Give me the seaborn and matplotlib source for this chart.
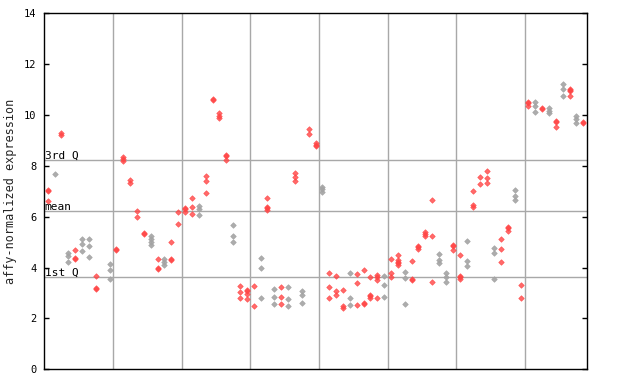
import numpy as np
import pandas as pd
import matplotlib
matplotlib.use("Agg")
import matplotlib.pyplot as plt
import seaborn as sns

# replicate values per sample column (79 columns, grouped by 10)
sample_values = [
    [7.06, 7.00, 6.61], [7.67], [9.31, 9.22], [4.56, 4.47, 4.23], [4.68, 4.36, 4.32],
    [5.11, 4.92, 4.64], [5.11, 4.84, 4.41], [3.66, 3.19, 3.15], [], [4.14, 3.89, 3.54],
    [4.75, 4.69], [8.34, 8.28, 8.19], [7.45, 7.34], [6.23, 5.99], [5.36, 5.32],
    [5.24, 5.11, 5.00, 4.90], [4.33, 3.97, 3.93], [4.33, 4.21, 4.09], [5.00, 4.32, 4.28], [6.18, 5.70],
    [6.35, 6.30, 6.20], [6.74, 6.38, 6.10], [6.42, 6.29, 6.06], [7.59, 7.40, 6.92], [10.63, 10.59],
    [10.07, 9.98, 9.90], [8.41, 8.37, 8.23], [5.66, 5.24, 5.00], [3.27, 3.03, 2.79], [3.10, 3.06, 2.95, 2.75],
    [3.27, 2.48], [4.37, 3.97, 2.79], [6.73, 6.38, 6.34, 6.27], [3.15, 2.83, 2.57], [3.23, 2.83, 2.57],
    [3.23, 2.75, 2.48], [7.72, 7.58, 7.41], [3.09, 2.91, 2.60], [9.44, 9.24], [8.91, 8.83, 8.79],
    [7.18, 7.08, 6.97], [3.78, 3.23, 2.79], [3.66, 3.08, 2.91], [3.11, 2.50, 2.40], [3.78, 2.79, 2.52],
    [3.74, 3.38, 2.52], [3.89, 2.60, 2.56], [3.62, 2.92, 2.88, 2.79], [3.70, 3.62, 3.53, 2.79], [3.66, 3.30, 2.83],
    [4.33, 3.78, 3.62], [4.48, 4.29, 4.23, 4.19, 4.09], [3.82, 3.58, 2.56], [4.25, 3.57, 3.53], [4.86, 4.82, 4.72],
    [5.38, 5.34, 5.23], [6.65, 5.23, 3.42], [4.52, 4.29, 4.19], [3.78, 3.62, 3.42], [4.88, 4.84, 4.68],
    [4.48, 3.68, 3.64, 3.54], [5.04, 4.25, 4.05], [7.00, 6.45, 6.37], [7.55, 7.28], [7.80, 7.54, 7.34],
    [4.78, 4.56, 3.54], [5.11, 4.72, 4.21], [5.61, 5.57, 5.45], [7.05, 6.82, 6.66], [3.30, 2.79],
    [10.51, 10.47, 10.36], [10.52, 10.36, 10.13], [10.27, 10.23], [10.28, 10.17, 10.08], [9.76, 9.72, 9.54],
    [11.22, 11.01, 10.75], [11.03, 10.97, 10.93, 10.75], [9.98, 9.83, 9.69], [9.72, 9.68],
]
# colour class of each sample column: "r" = red, "g" = grey
sample_colors = list(
    "rgrgrggrgg"
    "rrrrrgrgrr"
    "rrgrrrrgrr"
    "rgrgrgrgrr"
    "grrrgrrrrg"
    "rrgrrrrggr"
    "rgrrrgrrgr"
    "rgrgrgrgr"
)
group_size = 10
n_columns = 79
quartile_labels = ["3rd Q", "mean", "1st Q"]
quartile_values = [8.23, 6.22, 3.62]
y_ticks = [0, 2, 4, 6, 8, 10, 12, 14]
y_label = "affy-normalized expression"

rows = []
for i, (vals, c) in enumerate(zip(sample_values, sample_colors)):
    for v in vals:
        rows.append({"x": i + 0.5, "value": v, "kind": "red" if c == "r" else "grey"})
df = pd.DataFrame(rows)

sns.set_theme(style="white")
plt.rcParams["font.family"] = ["DejaVu Sans Mono"]

fig = plt.figure(figsize=(6.4, 3.84), dpi=100)
L, R, T, B = 44.3, 586.7, 13.3, 369.3
ax = fig.add_axes([L / 640, 1 - B / 384, (R - L) / 640, (B - T) / 384])

grid_c = "#a8a8a8"
for gx in range(group_size, n_columns, group_size):
    ax.axvline(gx, color=grid_c, lw=1, zorder=1)
for q in quartile_values:
    ax.axhline(q, color=grid_c, lw=1, zorder=1)

grey = "#a3a3a3"
red = "#ff4545"
sns.scatterplot(data=df[df["kind"] == "grey"], x="x", y="value", ax=ax, marker="D", s=8,
                color=grey, edgecolor=grey, linewidth=0.5, alpha=0.9,
                legend=False, zorder=3)
sns.scatterplot(data=df[df["kind"] == "red"], x="x", y="value", ax=ax, marker="D", s=8,
                color=red, edgecolor=red, linewidth=0.5, alpha=0.8,
                legend=False, zorder=4)

for lab, q in zip(quartile_labels, quartile_values):
    ax.text(0.08, q + 0.05, lab, ha="left", va="baseline", fontsize=8,
            color="black", zorder=5)

ax.set_xlim(0, n_columns)
ax.set_ylim(0, 14)
ax.set_yticks(y_ticks)
ax.set_xticks([])
ax.set_xlabel("")
ax.set_ylabel(y_label, fontsize=8.5)
ax.yaxis.set_label_coords(-0.05, 0.5)
ax.tick_params(axis="y", which="both", direction="in", length=3.6, width=1,
               left=True, right=True, labelleft=True, labelright=False,
               labelsize=7.5, pad=5.5, colors="black")
for s in ax.spines.values():
    s.set_color("black")
    s.set_linewidth(1)
    s.set_visible(True)
ax.grid(False)
ax.set_facecolor("white")

fig.savefig("out.png", dpi=100, facecolor="white")
